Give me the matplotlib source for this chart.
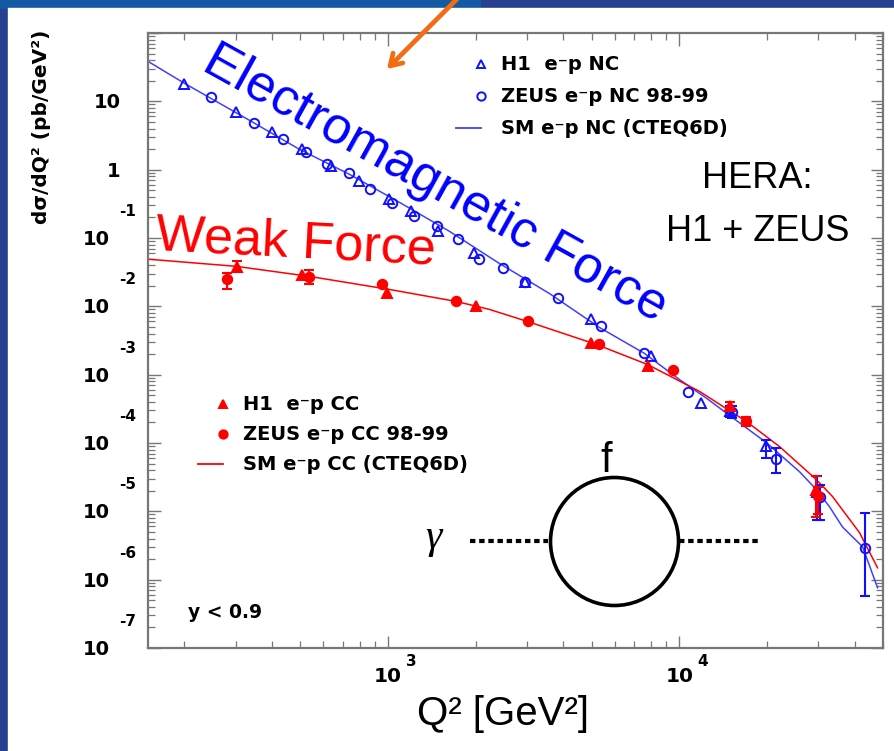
import numpy as np
import matplotlib
matplotlib.use("Agg")
import matplotlib.pyplot as plt
from matplotlib.patches import Rectangle
from matplotlib.ticker import LogLocator, NullFormatter

# ---- data (Q2 in GeV^2, dsigma/dQ2 in pb/GeV^2) ----
# H1 e-p NC (open triangles)
h1_nc_q2 = [199, 300, 400, 507, 635, 794, 1008, 1197, 1489, 1977, 2958, 4977,
            8000, 11880, 14900, 19860, 29650]
h1_nc_xs = [18.0, 6.9, 3.5, 2.0, 1.14, 0.69, 0.37, 0.25, 0.127, 0.060, 0.023,
            0.0065, 0.0019, 3.8e-4, 2.9e-4, 8.9e-5, 1.95e-5]
h1_nc_lo = [np.nan] * 14 + [2.4e-4, 6.0e-5, 7.5e-6]
h1_nc_hi = [np.nan] * 14 + [3.5e-4, 1.12e-4, 3.25e-5]

# ZEUS e-p NC 98-99 (open circles)
zeus_nc_q2 = [246, 346, 436, 521, 618, 735, 867, 1035, 1228, 1469, 1745, 2056,
              2472, 2958, 3817, 5388, 7586, 10700, 15170, 21400, 30460, 43300]
zeus_nc_xs = [11.5, 4.9, 2.8, 1.83, 1.21, 0.89, 0.53, 0.33, 0.21, 0.15, 0.096,
              0.050, 0.037, 0.023, 0.0134, 0.0051, 0.00205, 5.5e-4, 2.8e-4,
              5.8e-5, 1.6e-5, 2.9e-6]
zeus_nc_lo = [np.nan] * 18 + [2.33e-4, 3.7e-5, 7.5e-6, 5.8e-7]
zeus_nc_hi = [np.nan] * 18 + [3.45e-4, 8.5e-5, 2.45e-5, 9.4e-6]

# SM e-p NC (CTEQ6D)
sm_nc_q2 = [151, 199, 333, 495, 735, 1091, 1621, 2405, 3573, 5309, 7586, 10000,
            12500, 15200, 19900, 25850, 29560, 32750, 36300, 42550, 47900]
sm_nc_xs = [37.8, 18.6, 5.33, 2.0, 0.86, 0.335, 0.126, 0.0427, 0.0155, 0.00492,
            0.00205, 8.5e-4, 4.4e-4, 2.36e-4, 1.01e-4, 3.8e-5, 2.07e-5, 1.17e-5,
            5.9e-6, 3.03e-6, 7.6e-7]

# H1 e-p CC (filled triangles)
h1_cc_q2 = [302, 507, 995, 2000, 4977, 7834, 14870, 29500]
h1_cc_xs = [0.038, 0.0285, 0.0158, 0.0101, 0.00286, 0.00133, 3.45e-4, 2.07e-5]
h1_cc_lo = [0.0318, np.nan, np.nan, np.nan, np.nan, np.nan, 2.92e-4, 8.4e-6]
h1_cc_hi = [0.0461, np.nan, np.nan, np.nan, np.nan, np.nan, 3.95e-4, 3.25e-5]

# ZEUS e-p CC 98-99 (filled circles)
zeus_cc_q2 = [281, 535, 956, 1709, 3013, 5285, 9480, 16950, 30000]
zeus_cc_xs = [0.0255, 0.027, 0.021, 0.012, 0.0061, 0.00277, 0.00116, 2.1e-4, 1.7e-5]
zeus_cc_lo = [0.0178, 0.021, np.nan, np.nan, np.nan, np.nan, np.nan, 1.8e-4, 9.0e-6]
zeus_cc_hi = [0.031, 0.034, np.nan, np.nan, np.nan, np.nan, np.nan, 2.4e-4, 2.3e-5]

# SM e-p CC (CTEQ6D)
sm_cc_q2 = [151, 301, 535, 1008, 1713, 2225, 3004, 5188, 7770, 11720, 17000,
            22070, 29560, 33570, 41550, 47900]
sm_cc_xs = [0.0489, 0.0385, 0.0275, 0.0177, 0.0118, 0.00903, 0.00602, 0.00277,
            0.00141, 5.7e-4, 2.06e-4, 8.86e-5, 2.9e-5, 1.64e-5, 4.86e-6, 1.49e-6]

y_exponents = [-7, -6, -5, -4, -3, -2, -1]
x_exponents = [3, 4]

BLUE = "#1010ff"
BLUE_LINE = "#4040ff"
RED = "#ff0000"
W, H = 894, 751


def fx(x):
    return x / W


def fy(y):
    return 1 - y / H


fig = plt.figure(figsize=(W / 100, H / 100), dpi=100, facecolor="#27408f")
fig.patches.append(Rectangle((0, fy(8)), fx(480), 8 / H, transform=fig.transFigure,
                             color="#1459a3", zorder=-10))
fig.patches.append(Rectangle((fx(8), 0), 1, fy(8), transform=fig.transFigure,
                             color="white", zorder=-10))

L, R, T, B = 148, 883, 33, 648
ax = fig.add_axes([fx(L), fy(B), fx(R - L), (B - T) / H])
ax.set_zorder(1)


def ax_x(px):
    return (px - L) / (R - L)


def ax_y(py):
    return (B - py) / (B - T)


# theory curves
ax.plot(sm_nc_q2, sm_nc_xs, color=BLUE_LINE, lw=1.1, zorder=2)
ax.plot(sm_cc_q2, sm_cc_xs, color=RED, lw=1.1, zorder=2)


def data_points(q2, xs, lo, hi, marker, color, filled):
    q2 = np.array(q2, float)
    xs = np.array(xs, float)
    lo = np.array(lo, float)
    hi = np.array(hi, float)
    m = ~np.isnan(lo)
    ax.errorbar(q2[m], xs[m], yerr=[xs[m] - lo[m], hi[m] - xs[m]], fmt="none",
                ecolor=color, elinewidth=1.5, capsize=3.5, capthick=1.5, zorder=3)
    ax.plot(q2, xs, ls="none", marker=marker, ms=6.8,
            mfc=color if filled else "none", mec=color, mew=1.4, zorder=4)


data_points(h1_nc_q2, h1_nc_xs, h1_nc_lo, h1_nc_hi, "^", BLUE, False)
data_points(zeus_nc_q2, zeus_nc_xs, zeus_nc_lo, zeus_nc_hi, "o", BLUE, False)
data_points(h1_cc_q2, h1_cc_xs, h1_cc_lo, h1_cc_hi, "^", RED, True)
data_points(zeus_cc_q2, zeus_cc_xs, zeus_cc_lo, zeus_cc_hi, "o", RED, True)

ax.set_xscale("log")
ax.set_yscale("log")
ax.set_xlim(150, 50000)
ax.set_ylim(1e-7, 100)
for a in (ax.xaxis, ax.yaxis):
    a.set_major_locator(LogLocator(base=10, numticks=30))
    a.set_minor_locator(LogLocator(base=10, subs=np.arange(2, 10), numticks=30))
    a.set_major_formatter(NullFormatter())
    a.set_minor_formatter(NullFormatter())
ax.tick_params(which="both", direction="in", top=True, right=True, color="#777777")
ax.tick_params(which="major", length=9, width=1.0)
ax.tick_params(which="minor", length=5, width=0.9)
for s in ax.spines.values():
    s.set_color("#777777")
    s.set_linewidth(1.6)

bold = dict(family="DejaVu Sans", weight="bold", color="black")

# y tick labels, ROOT style
for e in y_exponents:
    ax.annotate("10", xy=(0, 10.0 ** e), xycoords=("axes fraction", "data"),
                xytext=((110 - L) * 0.72, -1), textcoords="offset points",
                ha="right", va="center", fontsize=14, **bold, annotation_clip=False)
    ax.annotate(str(e), xy=(0, 10.0 ** e), xycoords=("axes fraction", "data"),
                xytext=((119 - L) * 0.72, 19), textcoords="offset points",
                ha="left", va="center", fontsize=11, **bold, annotation_clip=False)
for lab, val, xr in [("1", 1.0, 120), ("10", 10.0, 121)]:
    ax.annotate(lab, xy=(0, val), xycoords=("axes fraction", "data"),
                xytext=((xr - L) * 0.72, -1), textcoords="offset points",
                ha="right", va="center", fontsize=14, **bold, annotation_clip=False)

# x tick labels
for e in x_exponents:
    ax.annotate("10", xy=(10.0 ** e, 0), xycoords=("data", "axes fraction"),
                xytext=(0, -(676 - B) * 0.72), textcoords="offset points",
                ha="center", va="center", fontsize=14.5, **bold, annotation_clip=False)
    ax.annotate(str(e), xy=(10.0 ** e, 0), xycoords=("data", "axes fraction"),
                xytext=(18 * 0.72, -(662 - B) * 0.72), textcoords="offset points",
                ha="left", va="center", fontsize=11, **bold, annotation_clip=False)

fig.text(fx(42), fy(30), "dσ/dQ² (pb/GeV²)", rotation=90, ha="center", va="top",
         fontsize=14.5, **bold)
fig.text(fx(503), fy(725), "Q² [GeV²]", ha="center", va="baseline",
         fontsize=29, family="Liberation Sans")


# legends
def legend_row(px, py, text, marker=None, color=None, filled=False, line=False):
    if line:
        ax.plot([ax_x(px - 25), ax_x(px)], [ax_y(py), ax_y(py)], color=color,
                lw=1.3, transform=ax.transAxes, clip_on=False)
    else:
        ax.plot([ax_x(px)], [ax_y(py)], marker=marker, ms=6, mew=1.4, ls="none",
                mfc=color if filled else "none", mec=color,
                transform=ax.transAxes, clip_on=False)
    ax.text(ax_x(px + 20), ax_y(py), text, transform=ax.transAxes, ha="left",
            va="center", fontsize=14, **bold)


legend_row(481, 64, "H1  e⁻p NC", "^", BLUE)
legend_row(481, 96, "ZEUS e⁻p NC 98-99", "o", BLUE)
legend_row(481, 128, "SM e⁻p NC (CTEQ6D)", color=BLUE_LINE, line=True)
legend_row(223, 404, "H1  e⁻p CC", "^", RED, filled=True)
legend_row(223, 434, "ZEUS e⁻p CC 98-99", "o", RED, filled=True)
legend_row(223, 464, "SM e⁻p CC (CTEQ6D)", color=RED, line=True)

ax.text(ax_x(188), ax_y(618), "y < 0.9", transform=ax.transAxes, ha="left",
        va="baseline", fontsize=13.5, **bold)

# photon self-energy loop
ax.plot([ax_x(470), ax_x(548)], [ax_y(541), ax_y(541)], transform=ax.transAxes,
        color="black", lw=3, ls=(0, (1.3, 0.9)), solid_capstyle="butt")
ax.plot([ax_x(679), ax_x(758)], [ax_y(541), ax_y(541)], transform=ax.transAxes,
        color="black", lw=3, ls=(0, (1.3, 0.9)), solid_capstyle="butt")
ax.plot([ax_x(614)], [ax_y(541)], transform=ax.transAxes, marker="o", ms=128 * 0.72,
        mfc="none", mec="black", mew=2.6)
ax.text(ax_x(606), ax_y(472), "f", transform=ax.transAxes, ha="center", va="baseline",
        fontsize=30, family="Liberation Sans")
ax.text(ax_x(433), ax_y(538), "γ", transform=ax.transAxes, ha="center", va="center",
        fontsize=30, family="Liberation Serif", style="italic")

# slide annotations (drawn above the axes)
ax.text(ax_x(200), ax_y(69), "Electromagnetic Force", transform=ax.transAxes,
        rotation=-29, rotation_mode="anchor", ha="left", va="baseline", fontsize=37.5,
        color="#0000ff", family="Liberation Sans", zorder=6, clip_on=False)
ax.text(ax_x(155), ax_y(250), "Weak Force", transform=ax.transAxes, rotation=-3,
        rotation_mode="anchor", ha="left", va="baseline", fontsize=37.5,
        color="#ff0000", family="Liberation Sans", zorder=6, clip_on=False)
ax.text(ax_x(757), ax_y(188), "HERA:", transform=ax.transAxes, ha="center",
        va="baseline", fontsize=26, family="Liberation Sans")
ax.text(ax_x(758), ax_y(241), "H1 + ZEUS", transform=ax.transAxes, ha="center",
        va="baseline", fontsize=26, family="Liberation Sans")

ax.annotate("", xy=(fx(385), fy(71)), xytext=(fx(462), fy(-6)),
            xycoords="figure fraction", textcoords="figure fraction",
            arrowprops=dict(arrowstyle="->,head_length=0.8,head_width=0.5",
                            color="#f36c12", lw=3.4), annotation_clip=False)

fig.savefig("out.png", dpi=100, facecolor=fig.get_facecolor())
